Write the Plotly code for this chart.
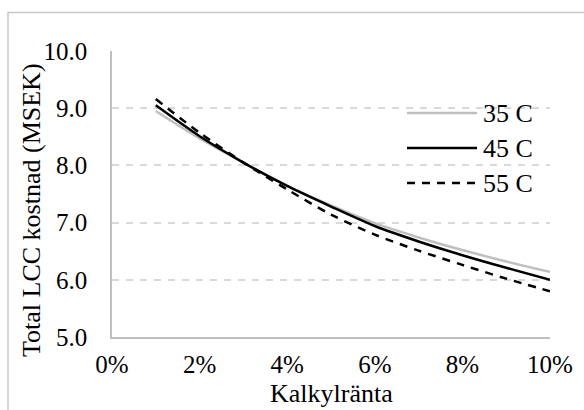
import plotly.graph_objects as go

# Discount rate (as fraction) and total LCC cost in MSEK per supply temperature
rates = [0.01, 0.02, 0.03, 0.04, 0.05, 0.06, 0.07, 0.08, 0.09, 0.10]
cost_35 = [8.95, 8.47, 8.05, 7.64, 7.30, 6.99, 6.74, 6.52, 6.32, 6.14]
cost_45 = [9.05, 8.51, 8.05, 7.64, 7.28, 6.94, 6.67, 6.43, 6.21, 6.00]
cost_55 = [9.16, 8.57, 8.05, 7.58, 7.14, 6.79, 6.51, 6.26, 6.02, 5.80]

series_names = ["35 C", "45 C", "55 C"]
x_ticks = [0, 0.02, 0.04, 0.06, 0.08, 0.10]
y_ticks = [5, 6, 7, 8, 9, 10]

FONT = "Liberation Serif, Times New Roman, serif"
W, H = 584, 410
L, R, T, B = 112, 34, 51, 73
PW, PH = W - L - R, H - T - B

styles = [
    dict(color="#bfbfbf", width=2.5, dash="solid"),
    dict(color="#000000", width=2.5, dash="solid"),
    dict(color="#000000", width=2.5, dash="8px,7px"),
]

fig = go.Figure()
for name, ys, st in zip(series_names, [cost_35, cost_45, cost_55], styles):
    fig.add_trace(go.Scatter(
        x=rates, y=ys, mode="lines", name=name,
        line=dict(color=st["color"], width=st["width"], dash=st["dash"],
                  shape="spline", smoothing=0.8),
        showlegend=False,
    ))


def px_x(p):
    return (p - L) / PW


def px_y(p):
    return (H - B - p) / PH


shapes = []
annotations = []

# Custom legend: long line samples with labels to their right
legend_rows = [113, 148, 183]
for name, st, ry in zip(series_names, styles, legend_rows):
    shapes.append(dict(type="line", xref="paper", yref="paper",
                       x0=px_x(407), x1=px_x(477), y0=px_y(ry), y1=px_y(ry),
                       line=dict(color=st["color"], width=st["width"], dash=st["dash"])))
    annotations.append(dict(text=name, xref="paper", yref="paper",
                            x=px_x(481), y=px_y(ry), xanchor="left", yanchor="middle",
                            showarrow=False, font=dict(family=FONT, size=26, color="#000")))

# Chart-area border
shapes.append(dict(type="rect", xref="paper", yref="paper",
                   x0=px_x(8), x1=px_x(600), y0=px_y(430), y1=px_y(12.5),
                   line=dict(color="#c8c8c8", width=1.5), layer="below"))

# Axis titles
annotations.append(dict(text="Kalkylränta", xref="paper", yref="paper",
                        x=0.5, y=px_y(393), xanchor="center", yanchor="middle",
                        showarrow=False, font=dict(family=FONT, size=26, color="#000")))
annotations.append(dict(text="Total LCC kostnad (MSEK)", xref="paper", yref="paper",
                        x=px_x(31), y=px_y(210), xanchor="center", yanchor="middle",
                        textangle=-90, showarrow=False,
                        font=dict(family=FONT, size=26, color="#000")))

fig.update_layout(
    width=W, height=H,
    margin=dict(l=L, r=R, t=T, b=B),
    paper_bgcolor="white", plot_bgcolor="white",
    font=dict(family=FONT, size=25, color="#000"),
    shapes=shapes, annotations=annotations,
    showlegend=False,
)
fig.update_xaxes(
    range=[0, 0.10], tickvals=x_ticks, tickformat=".0%",
    showgrid=False, zeroline=False,
    showline=True, linecolor="#bfbfbf", linewidth=1.5,
    ticks="", ticklabelstandoff=4,
    tickfont=dict(family=FONT, size=25, color="#000"),
)
fig.update_yaxes(
    range=[5, 10], tickvals=y_ticks, tickformat=".1f",
    showgrid=True, gridcolor="#d9d9d9", gridwidth=1.5, griddash="7px,7px",
    zeroline=False,
    showline=True, linecolor="#bfbfbf", linewidth=1.5,
    ticks="", ticklabelstandoff=18,
    tickfont=dict(family=FONT, size=25, color="#000"),
)

fig.write_html("out.html")
